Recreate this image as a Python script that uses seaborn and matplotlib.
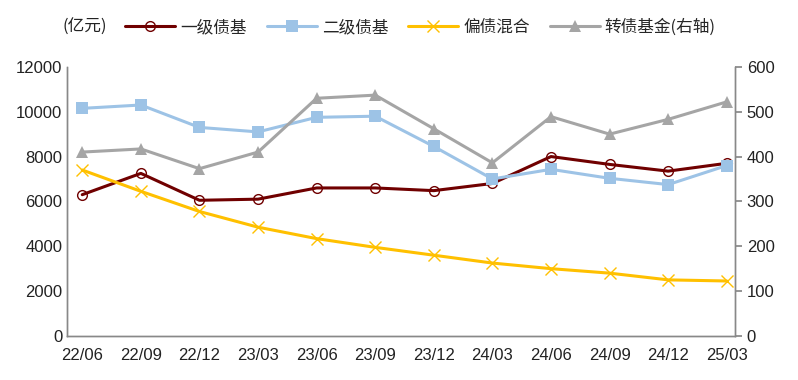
import numpy as np
import pandas as pd
import seaborn as sns
import matplotlib
matplotlib.use('Agg')
import matplotlib.pyplot as plt

# data
dates = ['22/06', '22/09', '22/12', '23/03', '23/06', '23/09',
         '23/12', '24/03', '24/06', '24/09', '24/12', '25/03']
primary_bond = [6300, 7250, 6050, 6100, 6600, 6600, 6480, 6800, 8000, 7650, 7350, 7700]
secondary_bond = [10150, 10300, 9300, 9100, 9750, 9800, 8450, 7000, 7430, 7030, 6750, 7600]
mixed_bond = [7400, 6450, 5550, 4850, 4340, 3950, 3600, 3250, 3000, 2800, 2500, 2450]
convertible = [410, 417, 373, 410, 530, 537, 462, 386, 489, 450, 483, 522]  # right axis

sns.set_theme(style='white')
plt.rcParams['font.family'] = ['Liberation Sans Narrow', 'Liberation Sans', 'Noto Sans CJK SC', 'DejaVu Sans']
cjk = ['Noto Sans CJK SC', 'DejaVu Sans']

df = pd.DataFrame({
    'pos': np.arange(len(dates)),
    '一级债基': primary_bond,
    '二级债基': secondary_bond,
    '偏债混合': mixed_bond,
    '转债基金(右轴)': convertible,
})

fig = plt.figure(figsize=(7.98, 3.8), dpi=100)
ax = fig.add_axes([0.084, 0.116, 0.837, 0.708])
ax2 = ax.twinx()

sns.lineplot(data=df, x='pos', y='一级债基', ax=ax, color='#700000', lw=2.2,
             marker='o', markersize=7, markerfacecolor='none',
             markeredgecolor='#700000', markeredgewidth=1, label='一级债基')
sns.lineplot(data=df, x='pos', y='二级债基', ax=ax, color='#9DC3E6', lw=2.2,
             marker='s', markersize=8, markeredgewidth=0, label='二级债基')
sns.lineplot(data=df, x='pos', y='偏债混合', ax=ax, color='#FFC000', lw=2.2,
             linestyle='-', dashes=False, marker='x', markersize=8,
             markeredgecolor='#FFC000', markeredgewidth=1, label='偏债混合')
sns.lineplot(data=df, x='pos', y='转债基金(右轴)', ax=ax2, color='#A5A5A5', lw=2.2,
             marker='^', markersize=8, markeredgewidth=0, label='转债基金(右轴)')

ax.set_ylim(0, 12000)
ax2.set_ylim(0, 600)
ax.set_xlim(-0.26, 11.14)
ax.set_yticks(np.arange(0, 12001, 2000))
ax2.set_yticks(np.arange(0, 601, 100))
ax.set_xticks(df['pos'])
ax.set_xticklabels(dates)
ax.set_xlabel('')
ax.set_ylabel('')
ax2.set_ylabel('')

for a in (ax, ax2):
    for s in a.spines.values():
        s.set_color('#888888')
        s.set_linewidth(1)
    a.spines['top'].set_visible(False)
    a.tick_params(labelsize=12, colors='#222222', length=0)
    a.grid(False)
ax.tick_params(axis='x', length=5, color='#888888', direction='out')
ax2.tick_params(axis='y', length=5, color='#888888', direction='out')

h1, l1 = ax.get_legend_handles_labels()
h2, l2 = ax2.get_legend_handles_labels()
ax.get_legend().remove()
ax2.get_legend().remove()
fig.text(0.078, 0.928, '(亿元)', fontsize=12, va='center', color='#222222', family=cjk)
fig.legend(h1 + h2, l1 + l2, loc='center left', bbox_to_anchor=(0.138, 0.928),
           ncol=4, frameon=False, prop={'family': cjk, 'size': 12},
           handlelength=3.0, columnspacing=1.2, handletextpad=0.3)

fig.savefig('out.png', dpi=100)
